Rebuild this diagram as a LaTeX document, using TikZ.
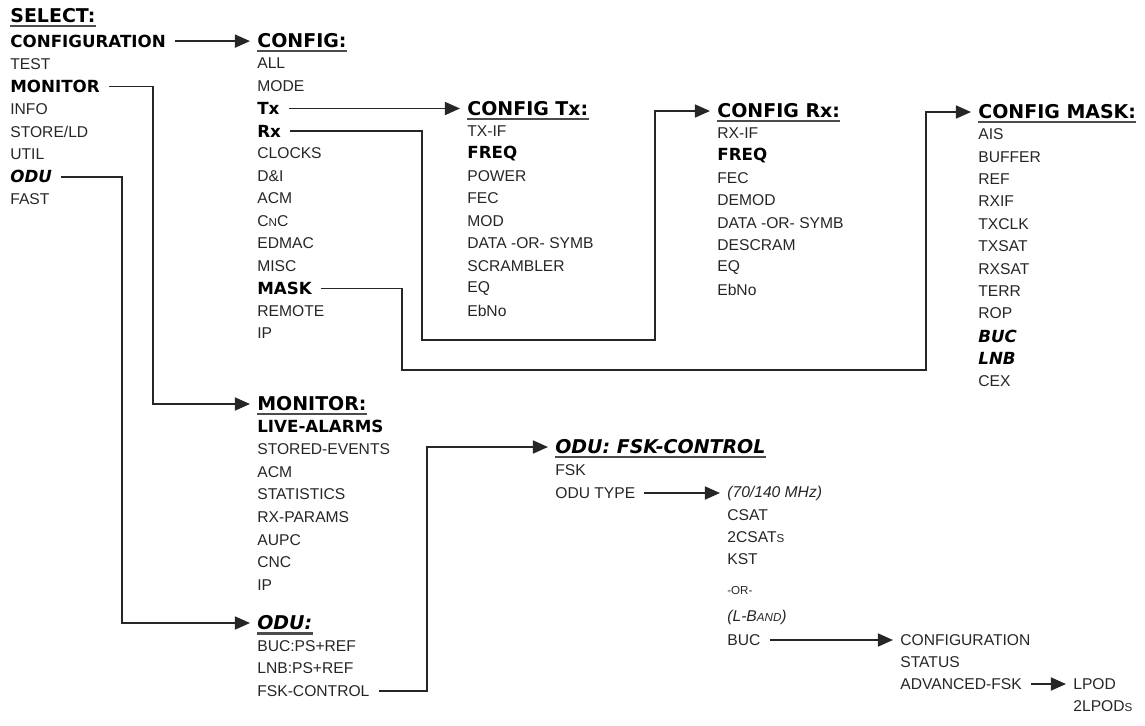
\documentclass[tikz,border=0pt]{standalone}
\usepackage{fontspec}
\setmainfont{Liberation Sans}
\newfontfamily\heavyfam{DejaVu Sans}
\usetikzlibrary{arrows.meta}

\newcommand\itemfont{\fontsize{8.9}{10}\selectfont}
\newcommand\boldfont{\heavyfam\bfseries\fontsize{9.5}{11}\selectfont}
\newcommand\headfont{\heavyfam\bfseries\fontsize{10.8}{12}\selectfont}
\newcommand\sm[1]{{\fontsize{6.6}{8}\selectfont #1}}

\begin{document}
\begin{tikzpicture}[x=0.02cm, y=-0.02cm,
    item/.style={anchor=west, inner sep=0pt, text=black!85, font=\itemfont},
    bitem/.style={item, text=black, font=\boldfont},
    biitem/.style={item, text=black, font=\boldfont\itshape},
    head/.style={anchor=west, inner sep=0pt, font=\headfont},
    ihead/.style={head, font=\headfont\itshape},
    uline/.style={line width=1.3pt, black!70},
    link/.style={line width=0.9pt, black!85, shorten <=5pt},
    arrow/.style={link, -{Triangle[length=0.3cm, width=0.26cm]}, shorten >=4pt}]

    \useasboundingbox (0,0) rectangle (1145,725);

    % SELECT
    \node[head] (sel-head) at (10,16) {SELECT:};
    \foreach \t/\s [count=\i] in {CONFIGURATION/bitem, TEST/item, MONITOR/bitem, INFO/item,
        {STORE/LD}/item, UTIL/item, ODU/biitem, FAST/item}
        \node[\s] (sel-\i) at (10, 18.5+22.6*\i) {\t};

    % CONFIG
    \node[head] (cfg-head) at (257,41) {CONFIG:};
    \foreach \t/\s [count=\i] in {ALL/item, MODE/item, Tx/bitem, Rx/bitem, CLOCKS/item, D\&I/item,
        ACM/item, C\sm{N}C/item, EDMAC/item, MISC/item, MASK/bitem, REMOTE/item, IP/item}
        \node[\s] (cfg-\i) at (257, 41+22.5*\i) {\t};

    % CONFIG Tx
    \node[head] (tx-head) at (467,109) {CONFIG Tx:};
    \foreach \t/\s [count=\i] in {TX-IF/item, FREQ/bitem, POWER/item, FEC/item, MOD/item,
        DATA -OR- SYMB/item, SCRAMBLER/item, EQ/item, EbNo/item}
        \node[\s] (tx-\i) at (467, 109+22.4*\i) {\t};

    % CONFIG Rx
    \node[head] (rx-head) at (717,111) {CONFIG Rx:};
    \foreach \t/\s [count=\i] in {RX-IF/item, FREQ/bitem, FEC/item, DEMOD/item,
        DATA -OR- SYMB/item, DESCRAM/item, EQ/item, EbNo/item}
        \node[\s] (rx-\i) at (717, 111+22.4*\i) {\t};

    % CONFIG MASK
    \node[head] (mask-head) at (978,112) {CONFIG MASK:};
    \foreach \t/\s [count=\i] in {AIS/item, BUFFER/item, REF/item, RXIF/item, TXCLK/item,
        TXSAT/item, RXSAT/item, TERR/item, ROP/item, BUC/biitem, LNB/biitem, CEX/item}
        \node[\s] (mask-\i) at (978, 112+22.4*\i) {\t};

    % MONITOR
    \node[head] (mon-head) at (257,404) {MONITOR:};
    \foreach \t/\s [count=\i] in {LIVE-ALARMS/bitem, STORED-EVENTS/item, ACM/item, STATISTICS/item,
        RX-PARAMS/item, AUPC/item, CNC/item, IP/item}
        \node[\s] (mon-\i) at (257, 404+22.6*\i) {\t};

    % ODU
    \node[ihead] (odu-head) at (257,623) {ODU:};
    \foreach \t [count=\i] in {BUC:PS+REF, LNB:PS+REF, FSK-CONTROL}
        \node[item] (odu-\i) at (257, 623+22.6*\i) {\t};

    % ODU: FSK-CONTROL
    \node[ihead] (fsk-head) at (555,447) {ODU: FSK-CONTROL};
    \foreach \t [count=\i] in {FSK, ODU TYPE}
        \node[item] (fsk-\i) at (555, 447+23*\i) {\t};

    % ODU types
    \foreach \t/\y [count=\i] in {{\textit{(70/140 MHz)}}/493, CSAT/515, 2CSAT\sm{S}/537, KST/559,
        \sm{-OR-}/590, {\textit{(L-B\sm{AND})}}/617, BUC/640}
        \node[item] (typ-\i) at (727,\y) {\t};

    % BUC
    \foreach \t [count=\i] in {CONFIGURATION, STATUS, ADVANCED-FSK}
        \node[item] (buc-\i) at (900, 618+22*\i) {\t};
    \node[item] (lpod-1) at (1073,684) {LPOD};
    \node[item] (lpod-2) at (1073,706) {2LPOD\sm{S}};

    % underlines
    \foreach \h in {sel,cfg,tx,rx,mask,mon,odu,fsk}
        \draw[uline] ([yshift=-1.6pt]\h-head.south west) -- ([yshift=-1.6pt]\h-head.south east);

    % connectors
    \coordinate (jmon) at (153,300);
    \coordinate (jodu) at (122,500);
    \coordinate (rxa) at (422,340);
    \coordinate (rxb) at (655,340);
    \coordinate (ma) at (402,370);
    \coordinate (mb) at (926,370);
    \coordinate (jfsk) at (427,560);

    \draw[arrow] (sel-1) -- (sel-1 -| cfg-head.west);
    \draw[arrow] (sel-3) -| (jmon) |- (mon-head.west);
    \draw[arrow] (sel-7) -| (jodu) |- (odu-head.west);
    \draw[arrow] (cfg-3) -- (cfg-3 -| tx-head.west);
    \draw[arrow] (cfg-4) -| (rxa) -- (rxb) |- (rx-head.west);
    \draw[arrow] (cfg-11) -| (ma) -- (mb) |- (mask-head.west);
    \draw[arrow] (odu-3) -| (jfsk) |- (fsk-head.west);
    \draw[arrow] (fsk-2) -- (fsk-2 -| typ-1.west);
    \draw[arrow] (typ-7) -- (typ-7 -| buc-1.west);
    \draw[arrow] (buc-3) -- (buc-3 -| lpod-1.west);
\end{tikzpicture}
\end{document}
